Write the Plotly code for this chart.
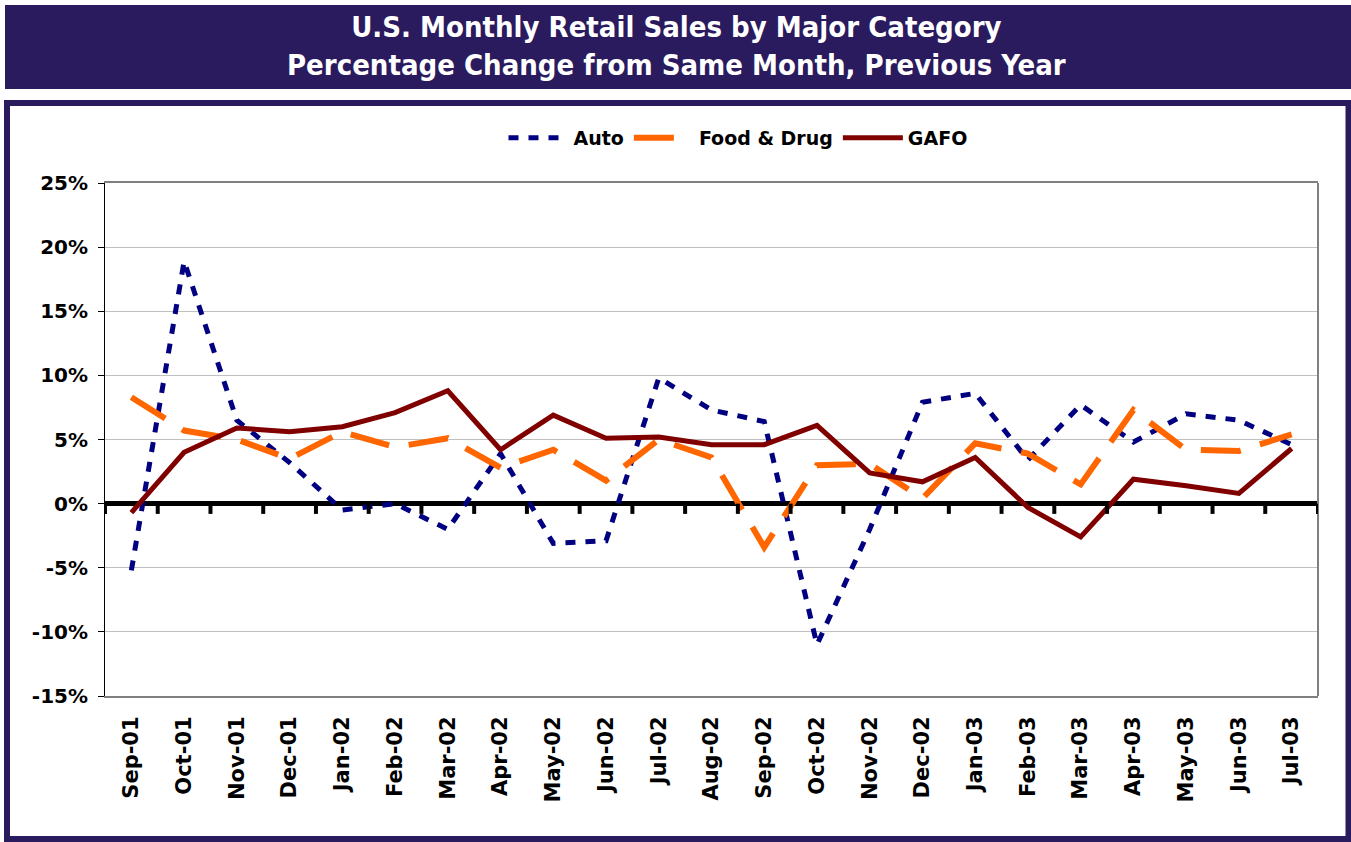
import plotly.graph_objects as go

months = ["Sep-01", "Oct-01", "Nov-01", "Dec-01", "Jan-02", "Feb-02", "Mar-02", "Apr-02",
          "May-02", "Jun-02", "Jul-02", "Aug-02", "Sep-02", "Oct-02", "Nov-02", "Dec-02",
          "Jan-03", "Feb-03", "Mar-03", "Apr-03", "May-03", "Jun-03", "Jul-03"]

auto = [-5.2, 18.9, 6.5, 3.2, -0.5, 0.0, -2.0, 3.9, -3.1, -2.9, 9.8, 7.3,
        6.4, -11.0, -2.0, 7.9, 8.6, 3.4, 7.7, 4.8, 7.0, 6.5, 4.6]
food_drug = [8.3, 5.7, 5.0, 3.5, 5.6, 4.4, 5.1, 2.8, 4.2, 1.8, 5.0, 3.6,
             -3.4, 3.0, 3.1, 0.4, 4.7, 3.9, 1.5, 7.3, 4.2, 4.1, 5.4]
gafo = [-0.7, 4.0, 5.9, 5.6, 6.0, 7.1, 8.8, 4.2, 6.9, 5.1, 5.2, 4.6,
        4.6, 6.1, 2.4, 1.7, 3.6, -0.3, -2.6, 1.9, 1.4, 0.8, 4.3]

y_ticks = [-15, -10, -5, 0, 5, 10, 15, 20, 25]
y_tick_labels = ["-15%", "-10%", "-5%", "0%", "5%", "10%", "15%", "20%", "25%"]

title_lines = ["U.S. Monthly Retail Sales by Major Category",
               "Percentage Change from Same Month, Previous Year"]

PURPLE = "#2A1A5E"
FONT = "DejaVu Sans"

W, H = 1351, 842
L, R, T, B = 105, 1318, 183, 696


def px_x(p):
    return (p - L) / (R - L)


def px_y(p):
    return (B - p) / (B - T)


fig = go.Figure()
fig.add_trace(go.Scatter(x=months, y=auto, name="Auto", mode="lines",
                         line=dict(color="#000080", width=5, dash="10px,10px")))
fig.add_trace(go.Scatter(x=months, y=food_drug, name="Food & Drug", mode="lines",
                         line=dict(color="#FF6600", width=6, dash="40px,20px")))
fig.add_trace(go.Scatter(x=months, y=gafo, name="GAFO", mode="lines",
                         line=dict(color="#800000", width=5)))

shapes = []
# title banner
shapes.append(dict(type="rect", xref="paper", yref="paper",
                   x0=px_x(5), x1=px_x(W + 5), y0=px_y(89), y1=px_y(5),
                   fillcolor=PURPLE, line=dict(width=0), layer="below"))
# outer frame
shapes.append(dict(type="rect", xref="paper", yref="paper",
                   x0=px_x(7), x1=px_x(1348.5), y0=px_y(839), y1=px_y(103),
                   fillcolor="rgba(0,0,0,0)", line=dict(color=PURPLE, width=6), layer="below"))
# right border of plot
shapes.append(dict(type="line", xref="paper", yref="paper", x0=1, x1=1, y0=0, y1=1,
                   line=dict(color="#808080", width=2)))
# category boundary ticks on the zero line
for i in range(len(months) + 1):
    shapes.append(dict(type="line", xref="x", yref="y", x0=i - 0.5, x1=i - 0.5,
                       y0=0, y1=-0.8, line=dict(color="black", width=4)))

annotations = [dict(text="<br>".join(title_lines), xref="paper", yref="paper",
                    x=px_x(676), y=px_y(46), xanchor="center", yanchor="middle",
                    showarrow=False, align="center",
                    font=dict(family="DejaVu Sans Condensed, " + FONT, size=29, color="white", weight="bold"))]

fig.update_layout(
    width=W, height=H,
    margin=dict(l=L, r=W - R, t=T, b=H - B, pad=0),
    paper_bgcolor="white", plot_bgcolor="white",
    shapes=shapes, annotations=annotations,
    showlegend=True,
    legend=dict(orientation="h", x=px_x(738), y=px_y(138), xanchor="center", yanchor="middle",
                font=dict(family=FONT, size=19, color="black", weight="bold"),
                bgcolor="rgba(0,0,0,0)", itemwidth=60, tracegroupgap=0),
    xaxis=dict(type="category", range=[-0.5, len(months) - 0.5],
               showgrid=False, showline=True, mirror=True, linecolor="#808080", linewidth=2,
               ticks="", tickangle=-90, ticklabelstandoff=10,
               tickfont=dict(family=FONT, size=21, color="black", weight="bold")),
    yaxis=dict(range=[-15, 25], tickvals=y_ticks, ticktext=y_tick_labels,
               showgrid=True, gridcolor="#C0C0C0", gridwidth=1,
               zeroline=True, zerolinecolor="black", zerolinewidth=5,
               showline=True, linecolor="black", linewidth=1,
               ticks="outside", ticklen=6, tickcolor="black", ticklabelstandoff=6,
               tickfont=dict(family=FONT, size=20, color="black", weight="bold")),
)

fig.write_html("out.html", config={"displayModeBar": False},
               post_script="document.body.style.margin='0px';")
